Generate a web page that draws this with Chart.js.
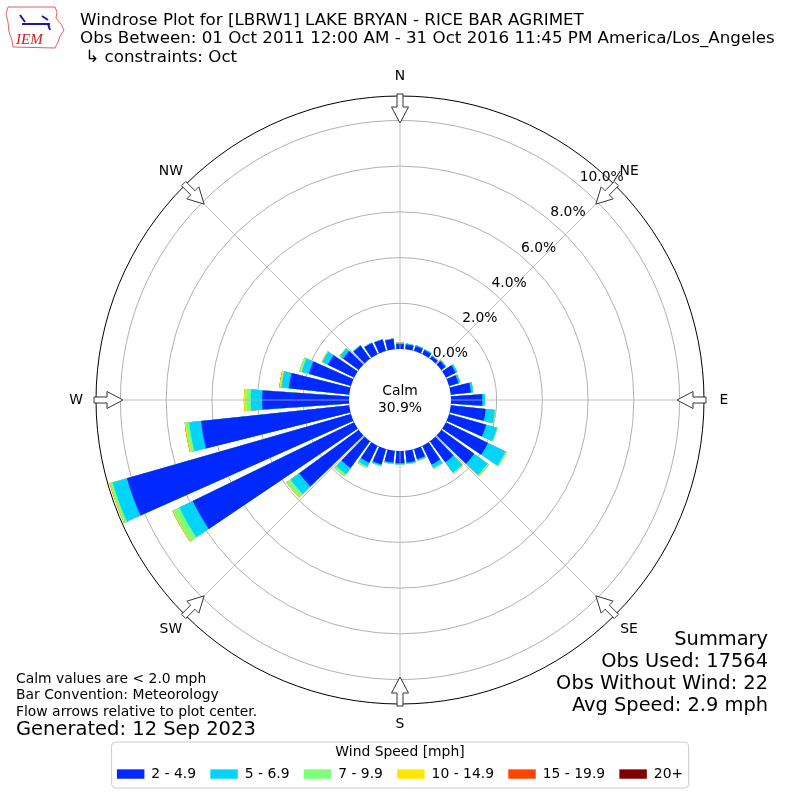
<!DOCTYPE html>
<html>
<head>
<meta charset="utf-8">
<script src="https://cdn.jsdelivr.net/npm/chart.js@4.4.0/dist/chart.umd.min.js"></script>
<style>
html, body { margin: 0; padding: 0; background: #fff; }
#wrap { width: 800px; height: 800px; }
</style>
</head>
<body>
<div id="wrap"><canvas id="windrose" width="800" height="800"></canvas></div>
<script>
// Wind direction bins (deg, direction wind blows from)
const directions = [0, 10, 20, 30, 40, 50, 60, 70, 80, 90, 100, 110, 120, 130, 140, 150, 160, 170,
    180, 190, 200, 210, 220, 230, 240, 250, 260, 270, 280, 290, 300, 310, 320, 330, 340, 350];
const speedBins = ['2 - 4.9', '5 - 6.9', '7 - 9.9', '10 - 14.9', '15 - 19.9', '20+'];
const binColors = ['#0028ff', '#00d4ff', '#7dff7a', '#ffe600', '#ff4500', '#800000'];

// Percent of observations per direction, one array per speed bin
const speed2to5 = [0.22, 0.21, 0.22, 0.20, 0.14, 0.22, 0.48, 0.43, 0.89, 1.37, 1.54, 1.69, 2.05, 1.78, 1.14, 0.91, 0.46, 0.52,
    0.54, 0.52, 0.70, 0.83, 1.45, 3.22, 7.86, 10.20, 6.52, 3.80, 2.66, 1.92, 1.28, 0.85, 0.70, 0.55, 0.52, 0.45];
const speed5to7 = [0.06, 0.04, 0.04, 0.04, 0.03, 0.05, 0.08, 0.08, 0.10, 0.12, 0.40, 0.49, 0.85, 0.72, 0.55, 0.17, 0.06, 0.05,
    0.05, 0.05, 0.06, 0.18, 0.33, 0.47, 0.65, 0.65, 0.52, 0.50, 0.32, 0.32, 0.27, 0.17, 0.03, 0.02, 0.02, 0.02];
const speed7to10 = [0, 0, 0, 0, 0, 0, 0, 0, 0, 0, 0.02, 0.03, 0.06, 0.07, 0.06, 0.04, 0.02, 0.02,
    0.02, 0.02, 0.02, 0.07, 0.12, 0.20, 0.30, 0.11, 0.15, 0.23, 0.04, 0.10, 0.03, 0.02, 0, 0, 0, 0];
const speed10to15 = [0, 0, 0, 0, 0, 0, 0, 0, 0, 0, 0, 0, 0, 0, 0, 0, 0, 0,
    0, 0, 0, 0, 0, 0.02, 0.04, 0.03, 0.05, 0.07, 0.06, 0, 0, 0, 0, 0, 0, 0];
const speed15to20 = [0, 0, 0, 0, 0, 0, 0, 0, 0, 0, 0, 0, 0, 0, 0, 0, 0, 0,
    0, 0, 0, 0, 0, 0, 0, 0, 0, 0, 0, 0, 0, 0, 0, 0, 0, 0];
const speed20plus = [0, 0, 0, 0, 0, 0, 0, 0, 0, 0, 0, 0, 0, 0, 0, 0, 0, 0,
    0, 0, 0, 0, 0, 0, 0, 0, 0, 0, 0, 0, 0, 0, 0, 0, 0, 0];

const radialTicks = [0, 2, 4, 6, 8, 10];
const compassLabels = ['N', 'NE', 'E', 'SE', 'S', 'SW', 'W', 'NW'];
const calmPercent = 30.9;
const summaryLines = ['Summary', 'Obs Used: 17564', 'Obs Without Wind: 22', 'Avg Speed: 2.9 mph'];
const noteLines = ['Calm values are < 2.0 mph', 'Bar Convention: Meteorology', 'Flow arrows relative to plot center.'];

// radial axis: value 0 sits on the calm circle
const axisMin = -2.23;
const axisMax = 11.07;

const FONT = '"DejaVu Sans", sans-serif';
Chart.defaults.font.family = FONT;
Chart.defaults.color = '#000';

// stack by drawing cumulative totals; each direction is an 8 deg bar plus a 2 deg gap
const binSeries = [speed2to5, speed5to7, speed7to10, speed10to15, speed15to20, speed20plus];
const running = directions.map(() => 0);
const datasets = binSeries.map((series, b) => {
    const data = [];
    series.forEach((v, i) => {
        running[i] += v;
        data.push(Number(running[i].toFixed(3)));
        data.push(0);
    });
    return {
        label: speedBins[b],
        data: data,
        legendColor: binColors[b],
        backgroundColor: ctx => ctx.dataIndex % 2 === 0 ? binColors[b] : 'rgba(0,0,0,0)',
        borderWidth: 0,
        angle: ctx => ctx.dataIndex % 2 === 0 ? 8 : 2
    };
});
const labels = [];
directions.forEach(d => { labels.push(d + '°'); labels.push(''); });

function polar(scale, r, deg) {
    const a = deg * Math.PI / 180;
    return [scale.xCenter + r * Math.sin(a), scale.yCenter - r * Math.cos(a)];
}

function text(ctx, str, x, y, font, align, base) {
    ctx.font = font;
    ctx.textAlign = align || 'left';
    ctx.textBaseline = base || 'middle';
    ctx.fillStyle = '#000';
    ctx.fillText(str, x, y);
}

const calmPlugin = {
    id: 'calm',
    afterDatasetsDraw(chart) {
        const scale = chart.scales.r;
        const ctx = chart.ctx;
        const r0 = scale.getDistanceFromCenterForValue(0);
        ctx.save();
        ctx.beginPath();
        ctx.arc(scale.xCenter, scale.yCenter, r0, 0, Math.PI * 2);
        ctx.fillStyle = '#fff';
        ctx.fill();
        text(ctx, 'Calm', scale.xCenter, scale.yCenter - 9, '13.9px ' + FONT, 'center');
        text(ctx, calmPercent.toFixed(1) + '%', scale.xCenter, scale.yCenter + 8, '13.9px ' + FONT, 'center');
        ctx.restore();
    }
};

const decorPlugin = {
    id: 'decor',
    afterDraw(chart) {
        const scale = chart.scales.r;
        const ctx = chart.ctx;
        const r0 = scale.getDistanceFromCenterForValue(0);
        const rMax = scale.getDistanceFromCenterForValue(axisMax);
        ctx.save();

        // angle grid lines
        ctx.strokeStyle = '#b0b0b0';
        ctx.lineWidth = 0.8;
        compassLabels.forEach((lab, i) => {
            const p1 = polar(scale, r0, i * 45);
            const p2 = polar(scale, rMax, i * 45);
            ctx.beginPath();
            ctx.moveTo(p1[0], p1[1]);
            ctx.lineTo(p2[0], p2[1]);
            ctx.stroke();
        });

        // radial tick labels
        radialTicks.forEach(v => {
            const p = polar(scale, scale.getDistanceFromCenterForValue(v), 40);
            text(ctx, v.toFixed(1) + '%', p[0], p[1] - 8, '13.9px ' + FONT, 'left');
        });

        // compass labels and inward flow arrows
        compassLabels.forEach((lab, i) => {
            const deg = i * 45;
            const a = deg * Math.PI / 180;
            const ux = Math.sin(a), uy = -Math.cos(a);
            const vx = Math.cos(a), vy = Math.sin(a);
            const shape = [[rMax + 2, -3], [rMax - 11, -3], [rMax - 11, -8.5], [rMax - 27, 0],
                [rMax - 11, 8.5], [rMax - 11, 3], [rMax + 2, 3]];
            ctx.beginPath();
            shape.forEach((s, k) => {
                const x = scale.xCenter + s[0] * ux + s[1] * vx;
                const y = scale.yCenter + s[0] * uy + s[1] * vy;
                if (k === 0) ctx.moveTo(x, y); else ctx.lineTo(x, y);
            });
            ctx.closePath();
            ctx.fillStyle = '#fff';
            ctx.fill();
            ctx.strokeStyle = '#333';
            ctx.lineWidth = 1;
            ctx.stroke();
            const p = polar(scale, rMax + 20, deg);
            text(ctx, lab, p[0], p[1], '13.9px ' + FONT, 'center');
        });

        // titles
        text(ctx, 'Windrose Plot for [LBRW1] LAKE BRYAN - RICE BAR AGRIMET', 80, 25, '16.7px ' + FONT, 'left', 'alphabetic');
        text(ctx, 'Obs Between: 01 Oct 2011 12:00 AM - 31 Oct 2016 11:45 PM America/Los_Angeles', 80, 43.3, '16.7px ' + FONT, 'left', 'alphabetic');
        text(ctx, ' \u21b3 constraints: Oct', 80, 61.6, '16.7px ' + FONT, 'left', 'alphabetic');

        // footer notes
        noteLines.forEach((s, i) => text(ctx, s, 16, 679 + i * 16.5, '13.9px ' + FONT, 'left'));
        text(ctx, 'Generated: 12 Sep 2023', 16, 730, '19.5px ' + FONT, 'left');
        summaryLines.forEach((s, i) => text(ctx, s, 768, 640 + i * 22, '19.4px ' + FONT, 'right'));

        // legend frame
        const lg = chart.legend;
        const boxes = lg.legendHitBoxes;
        const left = Math.min(...boxes.map(h => h.left)) - 5.3;
        const right = Math.max(...boxes.map(h => h.left + h.width)) + 5.5;
        const top = lg.top, bottom = lg.top + 46;
        ctx.beginPath();
        ctx.roundRect(left, top, right - left, bottom - top, 4);
        ctx.strokeStyle = '#cccccc';
        ctx.lineWidth = 1;
        ctx.stroke();

        // IEM logo
        ctx.beginPath();
        ctx.moveTo(8, 7); ctx.lineTo(55, 7); ctx.lineTo(57, 12); ctx.lineTo(56, 18); ctx.lineTo(61, 24);
        ctx.lineTo(64, 30); ctx.lineTo(60, 36); ctx.lineTo(58, 42); ctx.lineTo(55, 48);
        ctx.lineTo(13, 47); ctx.lineTo(12, 40); ctx.lineTo(9, 32); ctx.lineTo(8, 22); ctx.lineTo(6, 14);
        ctx.closePath();
        ctx.strokeStyle = '#e06060';
        ctx.lineWidth = 1;
        ctx.stroke();
        ctx.strokeStyle = '#1a1aa0';
        ctx.lineWidth = 2;
        ctx.beginPath();
        ctx.moveTo(22, 24); ctx.lineTo(50, 24);
        ctx.moveTo(20, 15); ctx.lineTo(25, 22);
        ctx.moveTo(42, 16); ctx.lineTo(48, 20);
        ctx.moveTo(48, 24); ctx.lineTo(50, 30);
        ctx.stroke();
        ctx.fillStyle = '#d02020';
        ctx.font = 'italic 15px "Liberation Serif", serif';
        ctx.textAlign = 'left';
        ctx.textBaseline = 'alphabetic';
        ctx.fillText('IEM', 16, 44);
        ctx.restore();
    }
};

new Chart(document.getElementById('windrose'), {
    type: 'polarArea',
    data: { labels: labels, datasets: datasets },
    options: {
        responsive: false,
        animation: false,
        layout: { padding: { left: 96, right: 96, top: 58, bottom: 9 } },
        scales: {
            r: {
                min: axisMin,
                max: axisMax,
                startAngle: -4,
                afterBuildTicks: scale => {
                    scale.ticks = [axisMin].concat(radialTicks, [axisMax]).map(v => ({ value: v }));
                },
                ticks: { display: false, z: 1 },
                grid: {
                    circular: true,
                    lineWidth: 1,
                    color: ctx => {
                        const v = ctx.tick ? ctx.tick.value : null;
                        if (v === axisMin) return 'rgba(0,0,0,0)';
                        if (v === 0 || v === axisMax) return '#000';
                        return '#b0b0b0';
                    }
                },
                angleLines: { display: false },
                pointLabels: { display: false }
            }
        },
        plugins: {
            tooltip: { enabled: false },
            legend: {
                position: 'bottom',
                onClick: null,
                title: {
                    display: true,
                    text: 'Wind Speed [mph]',
                    color: '#000',
                    font: { family: FONT, size: 13.9, lineHeight: 0.56 },
                    padding: { top: 3.05, bottom: 0 }
                },
                labels: {
                    boxWidth: 27.5,
                    boxHeight: 9.4,
                    padding: 14.2,
                    color: '#000',
                    font: { family: FONT, size: 13.9 },
                    generateLabels: chart => chart.data.datasets.map((ds, i) => ({
                        text: ds.label,
                        fillStyle: ds.legendColor,
                        strokeStyle: ds.legendColor,
                        fontColor: '#000',
                        lineWidth: 0,
                        hidden: false,
                        datasetIndex: i
                    }))
                }
            }
        }
    },
    plugins: [calmPlugin, decorPlugin]
});
</script>
</body>
</html>
